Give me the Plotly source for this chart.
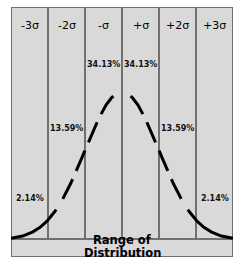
import numpy as np
import plotly.graph_objects as go

sigma_labels = ["-3σ", "-2σ", "-σ", "+σ", "+2σ", "+3σ"]
col_centers = [-2.5, -1.5, -0.5, 0.5, 1.5, 2.5]
pct_labels = ["2.14%", "13.59%", "34.13%", "34.13%", "13.59%", "2.14%"]
pct_y = [59, 129, 193, 193, 129, 59]
axis_label = ["Range of", "Distribution"]

# plot coordinates: x in sigma units, y in a 0..250 frame
base_y = 17
peak_h = 148

def curve(z):
    pdf = np.exp(-0.5 * z ** 2)
    return base_y + peak_h * pdf

fig = go.Figure()

LINE = "#707070"
# background box
fig.add_shape(type="rect", x0=-3, x1=3, y0=0, y1=250, fillcolor="#d9d9d9",
              line=dict(color=LINE, width=2), layer="below")
for xv in [-2, -1, 0, 1, 2]:
    fig.add_shape(type="line", x0=xv, x1=xv, y0=18, y1=250,
                  line=dict(color=LINE, width=2), layer="below")
fig.add_shape(type="line", x0=-3, x1=3, y0=18, y1=18,
              line=dict(color=LINE, width=2), layer="below")

# solid tails
zt = np.linspace(-3, -1.78, 60)
for zz in [zt, -zt]:
    fig.add_trace(go.Scatter(x=zz, y=curve(zz), mode="lines",
                             line=dict(color="black", width=3), hoverinfo="skip"))
# dashed middle, drawn from outside toward the peak on each side
zm = np.linspace(-1.6, -0.2, 120)
for zz in [zm, -zm]:
    fig.add_trace(go.Scatter(x=zz, y=curve(zz), mode="lines",
                             line=dict(color="black", width=3, dash="22px,9px"),
                             hoverinfo="skip"))

for lab, cx in zip(sigma_labels, col_centers):
    fig.add_annotation(x=cx, y=232, text=lab, showarrow=False,
                       font=dict(family="DejaVu Sans", size=11, color="black"))
for lab, cx, cy in zip(pct_labels, col_centers, pct_y):
    fig.add_annotation(x=cx, y=cy, text="<b>%s</b>" % lab, showarrow=False,
                       font=dict(family="DejaVu Sans", size=8, color="#111111"))
for lab, cy in zip(axis_label, [17, 4]):
    fig.add_annotation(x=0, y=cy, text="<b>%s</b>" % lab, showarrow=False,
                       font=dict(family="DejaVu Sans", size=11.5, color="black"))

fig.update_layout(
    width=246, height=265,
    margin=dict(l=11, r=13, t=7, b=8),
    paper_bgcolor="white", plot_bgcolor="white",
    showlegend=False,
    xaxis=dict(range=[-3, 3], visible=False, fixedrange=True),
    yaxis=dict(range=[0, 250], visible=False, fixedrange=True),
)
fig.write_html("out.html", config={"displayModeBar": False})
